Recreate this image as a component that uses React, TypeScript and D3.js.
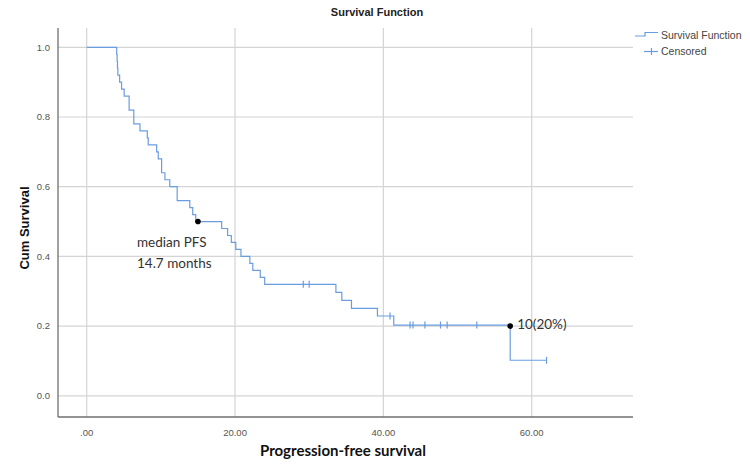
import React from "react";
import * as d3 from "d3";

// Kaplan-Meier steps: time at which survival drops, and value after the drop
const stepTimes = [0, 4.04, 4.1, 4.15, 4.2, 4.44, 4.7, 5.05, 5.72, 6.35, 7.18, 8.17, 8.3, 9.43, 9.65, 10.1, 10.55, 11.2, 12.2, 13.9, 14.3, 14.7, 18.2, 19.0, 19.5, 20.1, 20.8, 22.0, 22.4, 23.4, 24.0, 33.6, 34.4, 35.7, 39.2, 41.4, 57.1];
const stepSurvival = [1.0, 0.98, 0.96, 0.94, 0.92, 0.9, 0.88, 0.86, 0.82, 0.78, 0.76, 0.74, 0.72, 0.7, 0.68, 0.64, 0.62, 0.6, 0.56, 0.54, 0.52, 0.5, 0.48, 0.46, 0.44, 0.42, 0.4, 0.38, 0.36, 0.34, 0.32, 0.297, 0.274, 0.251, 0.229, 0.203, 0.102];
const lastTime = 62.0;

const censoredTimes = [29.2, 30.0, 40.9, 43.6, 44.0, 45.6, 47.7, 48.6, 52.6, 62.0];
const censoredSurvival = [0.32, 0.32, 0.229, 0.203, 0.203, 0.203, 0.203, 0.203, 0.203, 0.102];

const xTicks = [0, 20, 40, 60];
const xTickLabels = [".00", "20.00", "40.00", "60.00"];
const yTicks = [0, 0.2, 0.4, 0.6, 0.8, 1.0];
const yTickLabels = ["0.0", "0.2", "0.4", "0.6", "0.8", "1.0"];

const markerTimes = [15.0, 57.1];
const markerSurvival = [0.5, 0.2];
const medianLabel = ["median PFS", "14.7 months"];
const atRiskLabel = "10(20%)";

const W = 750, H = 467;
const plotLeft = 58, plotRight = 633, plotTop = 28, plotBottom = 417;

export default function App() {
  const x = d3.scaleLinear().domain([0, 60]).range([86.7, 531.7]);
  const y = d3.scaleLinear().domain([0, 1]).range([395.8, 47.3]);

  const pts: [number, number][] = stepTimes.map((t, i) => [t, stepSurvival[i]]);
  pts.push([lastTime, stepSurvival[stepSurvival.length - 1]]);
  const line = d3
    .line<[number, number]>()
    .x((d) => x(d[0]))
    .y((d) => y(d[1]))
    .curve(d3.curveStepAfter);

  const blue = "#6a9de0";
  const grid = "#d4d4d4";
  const tickFont = "'Liberation Sans', Arial, sans-serif";
  const annFont = "Lato, 'Open Sans', sans-serif";

  return (
    <svg width={W} height={H} style={{ position: "absolute", left: 0, top: 0, background: "#fff" }}>
      <rect x={0} y={0} width={W} height={H} fill="#fff" />
      {/* grid */}
      {yTicks.map((t) => (
        <line key={"gy" + t} x1={plotLeft} x2={plotRight} y1={y(t)} y2={y(t)} stroke={grid} strokeWidth={1.2} />
      ))}
      {xTicks.map((t) => (
        <line key={"gx" + t} x1={x(t)} x2={x(t)} y1={plotTop} y2={plotBottom} stroke={grid} strokeWidth={1.2} />
      ))}
      {/* axes */}
      <line x1={plotLeft} x2={plotLeft} y1={plotTop} y2={plotBottom} stroke="#6f6f6f" strokeWidth={1.3} />
      <line x1={plotLeft} x2={plotRight} y1={plotBottom} y2={plotBottom} stroke="#6f6f6f" strokeWidth={1.3} />
      {/* tick labels */}
      {yTicks.map((t, i) => (
        <text key={"ty" + t} x={50} y={y(t)} dy="0.35em" textAnchor="end" fontFamily={tickFont} fontSize={9.5} fill="#555">
          {yTickLabels[i]}
        </text>
      ))}
      {xTicks.map((t, i) => (
        <text key={"tx" + t} x={x(t)} y={433} dy="0.35em" textAnchor="middle" fontFamily={tickFont} fontSize={9.5} fill="#555">
          {xTickLabels[i]}
        </text>
      ))}
      {/* titles */}
      <text x={377} y={12} dy="0.35em" textAnchor="middle" fontFamily={tickFont} fontSize={11} fontWeight="bold" fill="#222">
        Survival Function
      </text>
      <text transform={`translate(24,228) rotate(-90)`} dy="0.35em" textAnchor="middle" fontFamily={tickFont} fontSize={13} fontWeight="bold" fill="#111">
        Cum Survival
      </text>
      <text x={343} y={451} dy="0.35em" textAnchor="middle" fontFamily={annFont} fontSize={15} fontWeight="bold" fill="#111">
        Progression-free survival
      </text>
      {/* survival curve */}
      <path d={line(pts) || ""} fill="none" stroke={blue} strokeWidth={1.2} />
      {censoredTimes.map((t, i) => (
        <line key={"c" + i} x1={x(t)} x2={x(t)} y1={y(censoredSurvival[i]) - 3.5} y2={y(censoredSurvival[i]) + 3.5} stroke={blue} strokeWidth={1.2} />
      ))}
      {/* markers */}
      {markerTimes.map((t, i) => (
        <circle key={"m" + i} cx={x(t)} cy={y(markerSurvival[i])} r={2.8} fill="#000" />
      ))}
      <text x={137} y={242} dy="0.35em" fontFamily={annFont} fontSize={13.5} fill="#333">
        {medianLabel[0]}
      </text>
      <text x={137} y={263} dy="0.35em" fontFamily={annFont} fontSize={13.5} fill="#333">
        {medianLabel[1]}
      </text>
      <text x={x(markerTimes[1]) + 7} y={y(markerSurvival[1]) - 2} dy="0.35em" fontFamily={annFont} fontSize={13.5} fill="#333">
        {atRiskLabel}
      </text>
      {/* legend */}
      <path d="M635,36 H645 V32.5 H658" fill="none" stroke={blue} strokeWidth={1.2} />
      <text x={661} y={35} dy="0.35em" fontFamily={tickFont} fontSize={10.5} fill="#444">
        Survival Function
      </text>
      <line x1={644} x2={658} y1={51.5} y2={51.5} stroke={blue} strokeWidth={1.2} />
      <line x1={651.5} x2={651.5} y1={48} y2={55} stroke={blue} strokeWidth={1.2} />
      <text x={661} y={51} dy="0.35em" fontFamily={tickFont} fontSize={10.5} fill="#444">
        Censored
      </text>
    </svg>
  );
}
